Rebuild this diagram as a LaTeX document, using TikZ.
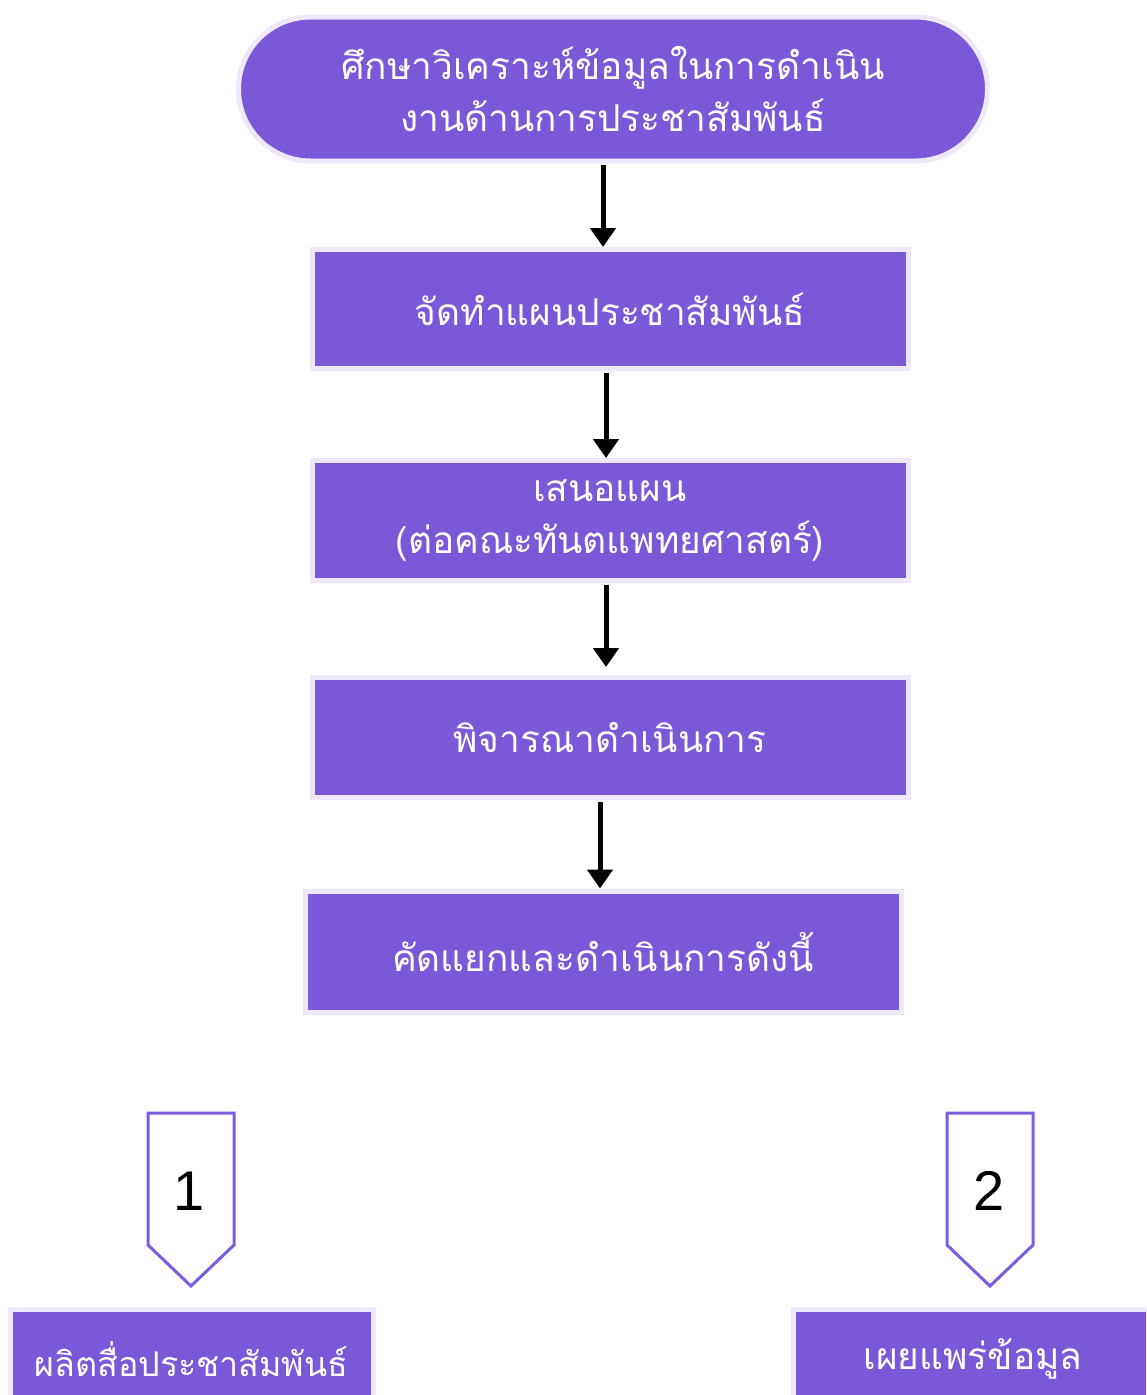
\documentclass[tikz,border=0pt]{standalone}
\usepackage{fontspec}
\newfontfamily\thaifont[Script=Thai]{Loma}
\setsansfont{Liberation Sans}
\usetikzlibrary{arrows.meta,calc}
\definecolor{boxfill}{RGB}{123,88,216}
\definecolor{boxedge}{RGB}{238,232,250}
\definecolor{tagline}{RGB}{124,92,224}
\tikzset{
  stepbox/.style={draw=boxedge, line width=5pt, fill=boxfill, text=white,
    font=\thaifont\fontsize{37}{52}\selectfont, align=center, inner sep=0pt,
    minimum width=596pt},
  startbox/.style={stepbox, rounded corners=72pt, minimum width=749pt, minimum height=144pt},
  arr/.style={line width=5pt, -{Triangle[width=25pt,length=19pt]}},
  tagshape/.style={draw=tagline, line width=3pt, line join=miter, fill=white},
  tagnum/.style={font=\sffamily\fontsize{56}{60}\selectfont, text=black, inner sep=0pt},
}
\begin{document}
\begin{tikzpicture}[x=1pt,y=-1pt]
\useasboundingbox (0,0) rectangle (1146,1395);
\clip (0,0) rectangle (1146,1395);
\node[startbox] (s) at (613,89) {ศึกษาวิเคราะห์ข้อมูลในการดำเนิน\\งานด้านการประชาสัมพันธ์};
\node[stepbox, minimum height=119pt] (b1) at (610,309) {จัดทำแผนประชาสัมพันธ์};
\node[stepbox, minimum height=120pt] (b2) at (610,520.5) {เสนอแผน\\(ต่อคณะทันตแพทยศาสตร์)};
\node[stepbox, minimum height=120pt] (b3) at (610,737.5) {พิจารณาดำเนินการ};
\node[stepbox, minimum height=121pt] (b4) at (603,951.5) {คัดแยกและดำเนินการดังนี้};
\draw[arr] ($(s.south -| 603,0)+(0,1)$) -- (b1.north -| 603,0);
\draw[arr] ($(b1.south -| 606,0)+(0,2)$) -- (b2.north -| 606,0);
\draw[arr] ($(b2.south -| 606,0)+(0,2)$) -- ($(b3.north -| 606,0)+(0,-8)$);
\draw[arr] ($(b3.south -| 600,0)+(0,2)$) -- (b4.north -| 600,0);
\draw[tagshape] (148,1113) -- (234,1113) -- (234,1245) -- (191,1286) -- (148,1245) -- cycle;
\node[tagnum] (n1) at (189,1191) {1};
\draw[tagshape] (947,1113) -- (1033,1113) -- (1033,1245) -- (990,1286) -- (947,1245) -- cycle;
\node[tagnum] (n2) at (989,1191) {2};
\node[stepbox, minimum width=363pt, minimum height=100pt, font=\thaifont\fontsize{34}{48}\selectfont] (c1) at (191.5,1359) {ผลิตสื่อประชาสัมพันธ์};
\node[stepbox, minimum width=360pt, minimum height=100pt] (c2) at (973,1359) {เผยแพร่ข้อมูล};
\end{tikzpicture}
\end{document}
